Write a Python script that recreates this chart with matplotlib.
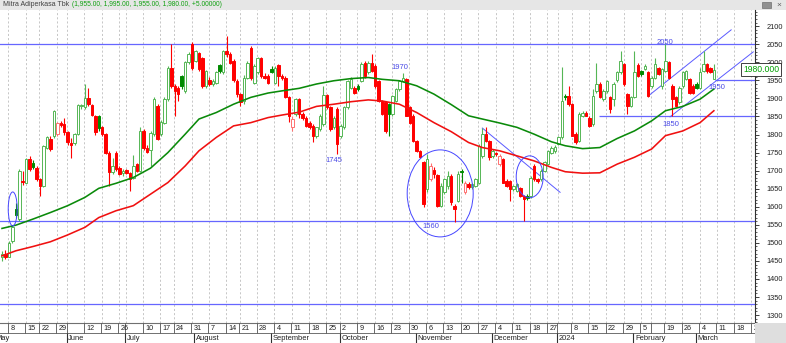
import numpy as np
import pandas as pd
import matplotlib
matplotlib.use("Agg")
import matplotlib.pyplot as plt
from matplotlib.patches import Ellipse, Rectangle
from matplotlib.ticker import MultipleLocator

plt.rcParams['font.family'] = ['Liberation Sans', 'DejaVu Sans']

# ---------------- data (daily OHLC, MAPI) ----------------
opens = [1462,1468,1462,1505,1595,1566,1670,1667,1732,1721,1707,1677,1658,1764,1789,1797,1801,1832,1829,1806,
         1776,1776,1801,1878,1875,1901,1881,1852,1852,1820,1801,1750,1695,1750,1707,1693,1702,1693,1681,1718,
         1700,1810,1764,1758,1801,1878,1801,1833,1898,1985,1935,1930,1961,1921,2001,2050,2004,2027,2011,1935,
         1952,1940,1944,1992,1972,2032,2023,2004,1949,1912,1893,1958,2041,1944,1972,2012,1963,1963,1981,1944,
         1992,1963,1958,1903,1820,1857,1898,1857,1847,1833,1824,1797,1815,1830,1909,1875,1820,1870,1795,1820,
         1875,1930,1930,1935,1949,1999,1972,1999,1990,1949,1893,1889,1884,1857,1893,1926,1949,1953,1875,1852,
         1783,1755,1723,1649,1677,1701,1688,1603,1640,1658,1686,1603,1617,1700,1640,1663,1654,1658,1667,1741,
         1801,1783,1741,1748,1718,1732,1672,1670,1649,1644,1651,1630,1630,1630,1713,1677,1677,1700,1718,1750,
         1755,1773,1792,1907,1907,1884,1801,1783,1852,1861,1847,1829,1921,1940,1898,1921,1903,1898,1950,1972,
         1995,1912,1879,1903,1993,1976,1981,1972,1935,1958,1983,1935,1976,2001,1935,1903,1889,1935,1953,1953,
         1935,1940,1930,1976,1995,1985,1955]
highs = [1478,1480,1505,1550,1610,1705,1700,1735,1741,1730,1712,1680,1772,1795,1795,1868,1835,1838,1845,1810,
         1790,1805,1885,1886,1941,1928,1885,1855,1855,1825,1805,1755,1735,1755,1712,1705,1705,1695,1743,1722,
         1820,1815,1770,1810,1905,1885,1840,1905,1990,2050,1940,1935,1965,2005,2030,2055,2035,2030,2015,1980,
         1960,1955,1975,1995,2035,2073,2028,2008,1955,1915,1965,2003,2045,1995,2015,2016,1970,1968,1990,1990,
         1996,1968,1962,1908,1850,1900,1902,1862,1850,1838,1828,1822,1856,1935,1912,1878,1850,1875,1828,1878,
         1952,1960,1935,1940,2000,2005,2003,2023,1995,1952,1896,1892,1888,1910,1930,1952,1970,1958,1880,1856,
         1786,1758,1728,1746,1720,1710,1692,1665,1680,1700,1690,1608,1700,1705,1670,1668,1665,1680,1775,1818,
         1820,1786,1760,1752,1745,1736,1676,1674,1660,1665,1655,1633,1634,1685,1718,1680,1705,1728,1758,1768,
         1770,1795,1986,1912,1935,1888,1806,1862,1865,1866,1850,1926,1999,1945,1925,1952,1908,1945,1975,2032,
         1998,1915,1908,2032,1998,1980,1995,1976,1962,2013,1988,1985,2050,2005,1940,1906,1935,1975,1980,1958,
         1940,1945,1985,2032,1998,1988,1995]
lows = [1450,1455,1460,1500,1570,1560,1660,1665,1700,1705,1670,1629,1655,1760,1755,1790,1795,1820,1800,1770,
        1734,1770,1798,1872,1870,1880,1850,1800,1810,1795,1745,1658,1690,1700,1688,1685,1690,1644,1678,1695,
        1695,1758,1750,1713,1795,1785,1795,1830,1893,1930,1852,1893,1925,1915,1995,1980,2000,1975,1930,1930,
        1935,1935,1940,1970,1968,2015,1995,1945,1905,1880,1885,1955,1950,1940,1968,1958,1955,1940,1970,1940,
        1935,1950,1900,1835,1810,1850,1845,1840,1820,1815,1778,1790,1810,1825,1870,1810,1815,1746,1790,1815,
        1870,1925,1912,1922,1945,1958,1968,1972,1930,1890,1855,1805,1797,1852,1890,1922,1945,1850,1830,1780,
        1752,1735,1600,1640,1670,1680,1598,1598,1635,1650,1605,1557,1612,1665,1635,1650,1648,1655,1662,1735,
        1780,1730,1735,1740,1712,1665,1656,1617,1645,1640,1628,1561,1618,1625,1672,1665,1672,1695,1715,1745,
        1750,1770,1788,1895,1880,1795,1775,1780,1848,1850,1820,1825,1915,1900,1893,1915,1860,1880,1945,1968,
        1935,1857,1875,1900,1960,1962,1978,1905,1930,1955,1965,1926,1972,1955,1852,1875,1885,1930,1950,1912,
        1912,1926,1925,1972,1970,1970,1955]
closes = [1470,1462,1500,1545,1577,1700,1668,1732,1704,1709,1677,1658,1769,1792,1761,1866,1832,1826,1806,1778,
          1772,1801,1881,1883,1900,1886,1855,1808,1817,1801,1750,1695,1713,1704,1690,1700,1693,1678,1713,1700,
          1810,1764,1753,1805,1898,1787,1836,1898,1985,1935,1921,1912,1935,2002,2023,1985,2032,1981,1935,1976,
          1940,1949,1972,1975,2032,2023,1999,1952,1912,1889,1958,1999,1958,1990,2012,1963,1958,1944,1972,1985,
          1963,1958,1903,1850,1843,1898,1857,1847,1824,1820,1797,1820,1852,1909,1875,1815,1847,1773,1824,1875,
          1949,1953,1916,1926,1995,1963,1999,1976,1935,1893,1857,1810,1857,1907,1926,1949,1958,1852,1833,1783,
          1755,1737,1607,1732,1713,1690,1603,1658,1677,1686,1612,1594,1690,1695,1667,1654,1663,1677,1769,1801,
          1783,1737,1755,1745,1741,1667,1658,1649,1658,1663,1630,1621,1625,1681,1677,1670,1700,1723,1755,1764,
          1766,1792,1893,1903,1884,1797,1778,1857,1861,1852,1824,1907,1940,1903,1921,1949,1870,1940,1972,2004,
          1940,1879,1903,1972,1963,1967,1990,1907,1958,1995,1967,1981,2004,1958,1898,1879,1930,1972,1976,1916,
          1914,1930,1972,1995,1976,1972,1980]

# moving averages (bar index -> value)
ma_idx = [0,4,9,14,19,24,28,33,38,43,48,53,57,62,67,72,77,81,86,91,96,101,106,110,115,120,125,130,
          135,139,144,149,154,159,163,168,173,178,183,188,192,197,202,206]
ma_green = [1540,1549,1566,1584,1603,1626,1651,1665,1681,1707,1750,1801,1843,1861,1884,1903,1915,1921,1928,
            1940,1949,1955,1958,1953,1949,1935,1912,1883,1852,1843,1832,1820,1801,1780,1769,1761,1764,1789,
            1810,1838,1866,1878,1898,1926]
ma_red = [1464,1478,1490,1503,1522,1543,1570,1589,1603,1635,1667,1713,1755,1792,1824,1833,1847,1854,1862,
          1878,1884,1891,1896,1893,1884,1861,1833,1808,1778,1764,1755,1741,1727,1709,1697,1693,1694,1718,
          1737,1760,1797,1810,1833,1866]

# annotations drawn on the chart
full_levels = [2050, 1560, 1330]
part_levels = [1850, 1950]
part_starts = [172.8, 206.4]
trend_x0 = [139.0, 187.3, 193.3]
trend_y0 = [1818, 1909, 1849]
trend_x1 = [161.5, 211.0, 217.4]
trend_y1 = [1640, 2090, 2029]
ell_x = [3.1, 126.8, 152.7]
ell_y = [1594, 1637, 1683]
ell_w = [2.6, 19.1, 7.8]
ell_h = [94, 241, 116]
note_text = ['1970', '1745', '1560', '2050', '1850', '1950']
note_x = [115.2, 96.1, 124.2, 191.9, 193.6, 207.0]
note_y = [1985, 1727, 1544, 2056, 1829, 1929]

title_name = "Mitra Adiperkasa Tbk"
title_vals = "(1,955.00, 1,995.00, 1,955.00, 1,980.00, +5.00000)"
last_tag = "1980.000"

# trading calendar (IDX holidays)
holidays = pd.to_datetime(["2023-05-01", "2023-05-18", "2023-06-01", "2023-06-02", "2023-06-28",
                           "2023-06-29", "2023-06-30", "2023-07-19", "2023-08-17", "2023-09-28",
                           "2023-12-25", "2023-12-26", "2024-01-01", "2024-02-08", "2024-02-09",
                           "2024-02-14"])
month_names = ["January", "February", "March", "April", "May", "June", "July", "August",
               "September", "October", "November", "December"]

# ---------------- figure ----------------
W, H = 786, 343
PR = 755
fig = plt.figure(figsize=(W / 100, H / 100), dpi=100)
fig.patch.set_facecolor('white')

ax = fig.add_axes([0, 20 / H, PR / W, 313 / H])
N = len(closes)
xs = np.arange(N)
x_left, x_right = -0.58, 217.9
ax.set_xlim(x_left, x_right)
ax.set_ylim(1278, 2145)

cal = pd.bdate_range("2023-04-17", "2024-03-29")
cal = cal[~cal.isin(holidays)]
p_last = cal.get_loc(pd.Timestamp("2024-03-08"))
p0 = p_last - N + 1
cal_x = np.arange(len(cal)) - p0

week_first = []
seen = set()
for d, xv in zip(cal, cal_x):
    k = tuple(d.isocalendar()[:2])
    if k not in seen:
        seen.add(k)
        week_first.append((d, xv))
month_first = []
seenm = set()
for d, xv in zip(cal, cal_x):
    k = (d.year, d.month)
    if k not in seenm:
        seenm.add(k)
        month_first.append((d, xv))

# dashed vertical grid
for d, xv in week_first:
    if x_left < xv < x_right:
        ax.axvline(xv - 0.15, color='#bdbdbd', lw=0.6, ls=(0, (2.5, 2.5)), zorder=0)

# blue level lines and annotations
BL = '#6666ff'
for lv in full_levels:
    ax.axhline(lv, color=BL, lw=0.9, zorder=1)
for lv, s in zip(part_levels, part_starts):
    ax.hlines(lv, s, x_right, color=BL, lw=0.9, zorder=1)
for a, b, c_, d_ in zip(trend_x0, trend_y0, trend_x1, trend_y1):
    ax.plot([a, c_], [b, d_], color='#5a5aff', lw=0.7, zorder=1)
for ex, ey, ew, eh in zip(ell_x, ell_y, ell_w, ell_h):
    ax.add_patch(Ellipse((ex, ey), ew, eh, fill=False, ec='#4646ff', lw=0.7, zorder=5))
for t, tx, ty in zip(note_text, note_x, note_y):
    ax.text(tx, ty, t, color='#4b4be6', fontsize=5.5, ha='center', va='center', zorder=6)

# candles
o = np.array(opens, float); h = np.array(highs, float)
l = np.array(lows, float); c = np.array(closes, float)
prev = np.r_[o[0], c[:-1]]
up = c >= prev
hollow = c > o
GH, GF, RH, RF = '#55b655', '#008a00', '#ff7070', '#ff0000'
cols = np.where(up, np.where(hollow, GH, GF), np.where(hollow, RH, RF))
ax.vlines(xs, l, h, colors=cols, lw=0.8, zorder=3)
bottoms = np.minimum(o, c)
heights = np.maximum(np.abs(c - o), 2.5)
faces = np.where(hollow, 'white', cols)
ax.bar(xs, heights, 0.72, bottoms, color=faces, edgecolor=cols, linewidth=0.7, zorder=3)

# moving averages
ax.plot(ma_idx, ma_green, color='#0a8a0a', lw=1.15, zorder=4)
ax.plot(ma_idx, ma_red, color='#f01010', lw=1.15, zorder=4)

# axes styling
for s in ['left', 'top']:
    ax.spines[s].set_visible(False)
ax.spines['right'].set_color('#303030')
ax.spines['right'].set_linewidth(0.8)
ax.spines['bottom'].set_color('#707070')
ax.spines['bottom'].set_linewidth(0.8)
ax.set_xticks([])
ax.yaxis.set_ticks_position('right')
ax.set_yticks(np.arange(1300, 2101, 50))
ax.yaxis.set_minor_locator(MultipleLocator(10))
ax.tick_params(axis='y', which='major', length=3, width=0.6, pad=5, labelsize=5.3,
               colors='#202020')
ax.tick_params(axis='y', which='minor', length=1.6, width=0.5, colors='#202020')

# last price tag
ax.text(743 / PR, 1980, last_tag, transform=ax.get_yaxis_transform(), fontsize=6.2,
        color='#00a000', ha='left', va='center', clip_on=False, zorder=10,
        bbox=dict(boxstyle='square,pad=0.2', fc='white', ec='#202020', lw=0.6))

# ---------------- date axis ----------------
axd = fig.add_axes([0, 0, PR / W, 20 / H])
axd.set_xlim(x_left, x_right)
axd.set_ylim(0, 1)
axd.axis('off')
axd.axhline(0.5, color='#707070', lw=0.7)
last_kept = None
for d, xv in week_first:
    if not (0 <= xv < x_right):
        continue
    axd.vlines(xv - 0.3, 0.5, 1.0, color='#505050', lw=0.6)
    if last_kept is None or xv - last_kept >= 4:
        axd.text(xv + 0.4, 0.74, str(d.day), fontsize=5.2, ha='left', va='center',
                 color='#202020', clip_on=True)
        last_kept = xv
for d, xv in month_first:
    if not (x_left - 10 < xv < x_right):
        continue
    axd.vlines(xv - 0.3, 0.0, 0.5, color='#303030', lw=0.8)
    lab = str(d.year) if d.month == 1 else month_names[d.month - 1]
    axd.text(xv + 0.2, 0.23, lab, fontsize=5.4, ha='left', va='center', color='#202020',
             clip_on=True)

# corner box bottom-right
fig.add_artist(Rectangle((PR / W, 0), 1 - PR / W, 20 / H, transform=fig.transFigure,
                         fc='#dedede', ec='none'))

# ---------------- title band ----------------
fig.add_artist(Rectangle((0, 1 - 10 / H), 1, 10 / H, transform=fig.transFigure,
                         fc='#e6e6e6', ec='none', zorder=0))
t1 = fig.text(3 / W, 1 - 5 / H, title_name, fontsize=5, color='#404040', ha='left', va='center')
fig.canvas.draw()
bb = t1.get_window_extent()
fig.text((bb.x1 + 3) / W, 1 - 5 / H, title_vals, fontsize=4.8, color='#10a010', ha='left',
         va='center')
fig.add_artist(Rectangle((762 / W, 1 - 8 / H), 9 / W, 6 / H, transform=fig.transFigure,
                         fc='#909090', ec='#707070', lw=0.5))
fig.text(779 / W, 1 - 5 / H, "×", fontsize=6, color='#606060', ha='center', va='center')

fig.savefig("out.png", dpi=100)
